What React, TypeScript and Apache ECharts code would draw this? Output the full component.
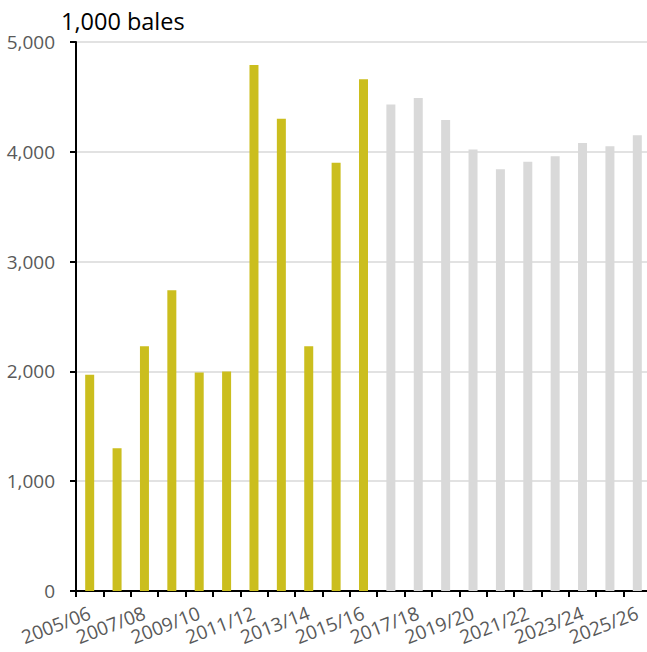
import React, { useEffect, useRef } from "react";
import * as echarts from "echarts";

const categories = [
  "2005/06", "2006/07", "2007/08", "2008/09", "2009/10", "2010/11", "2011/12",
  "2012/13", "2013/14", "2014/15", "2015/16", "2016/17", "2017/18", "2018/19",
  "2019/20", "2020/21", "2021/22", "2022/23", "2023/24", "2024/25", "2025/26",
];
const actualValues = [1970, 1300, 2230, 2740, 1990, 2000, 4790, 4300, 2230, 3900, 4660];
const projectedValues = [4430, 4490, 4290, 4020, 3840, 3910, 3960, 4080, 4050, 4150];
const yTicks = { min: 0, max: 5000, interval: 1000 };
const unitLabel = "1,000 bales";

const ACTUAL_COLOR = "#CBBE1E";
const PROJ_COLOR = "#D9D9D9";
const FONT = "'Open Sans', 'Noto Sans', sans-serif";

export default function App() {
  const ref = useRef<HTMLDivElement>(null);
  useEffect(() => {
    if (!ref.current) return;
    const chart = echarts.init(ref.current, undefined, { renderer: "svg" });
    const data = [
      ...actualValues.map((v) => ({ value: v, itemStyle: { color: ACTUAL_COLOR } })),
      ...projectedValues.map((v) => ({ value: v, itemStyle: { color: PROJ_COLOR } })),
    ];
    chart.setOption({
      animation: false,
      textStyle: { fontFamily: FONT },
      title: {
        text: unitLabel,
        left: 56,
        top: 4,
        textStyle: { fontFamily: FONT, fontSize: 23.5, fontWeight: "normal", color: "#000" },
      },
      grid: {
        left: 76,
        top: 42,
        bottom: 61,
        width: 575,
        containLabel: false,
        outerBoundsMode: "none",
      },
      xAxis: {
        type: "category",
        data: categories,
        axisLine: { show: true, lineStyle: { color: "#000", width: 2 } },
        axisTick: { show: true, length: 6, interval: 0, alignWithLabel: false, lineStyle: { color: "#000", width: 2 } },
        axisLabel: {
          interval: 1,
          rotate: 21,
          margin: 21,
          lineHeight: 15,
          showMinLabel: true,
          showMaxLabel: true,
          hideOverlap: false,
          color: "#595959",
          fontSize: 19,
          fontFamily: FONT,
        },
      },
      yAxis: {
        type: "value",
        min: yTicks.min,
        max: yTicks.max,
        interval: yTicks.interval,
        axisLine: { show: true, lineStyle: { color: "#000", width: 2 } },
        axisTick: { show: true, length: 6, lineStyle: { color: "#000", width: 2 } },
        axisLabel: {
          color: "#595959",
          fontSize: 19,
          fontFamily: FONT,
          margin: 21,
          formatter: (v: number) => v.toLocaleString("en-US"),
        },
        splitLine: { show: true, lineStyle: { color: "#D9D9D9", width: 1.5 } },
      },
      series: [
        {
          type: "bar",
          data,
          barWidth: 9,
        },
      ],
    });
    return () => chart.dispose();
  }, []);
  return <div ref={ref} style={{ width: 647, height: 652, position: "absolute", left: 0, top: 0 }} />;
}
